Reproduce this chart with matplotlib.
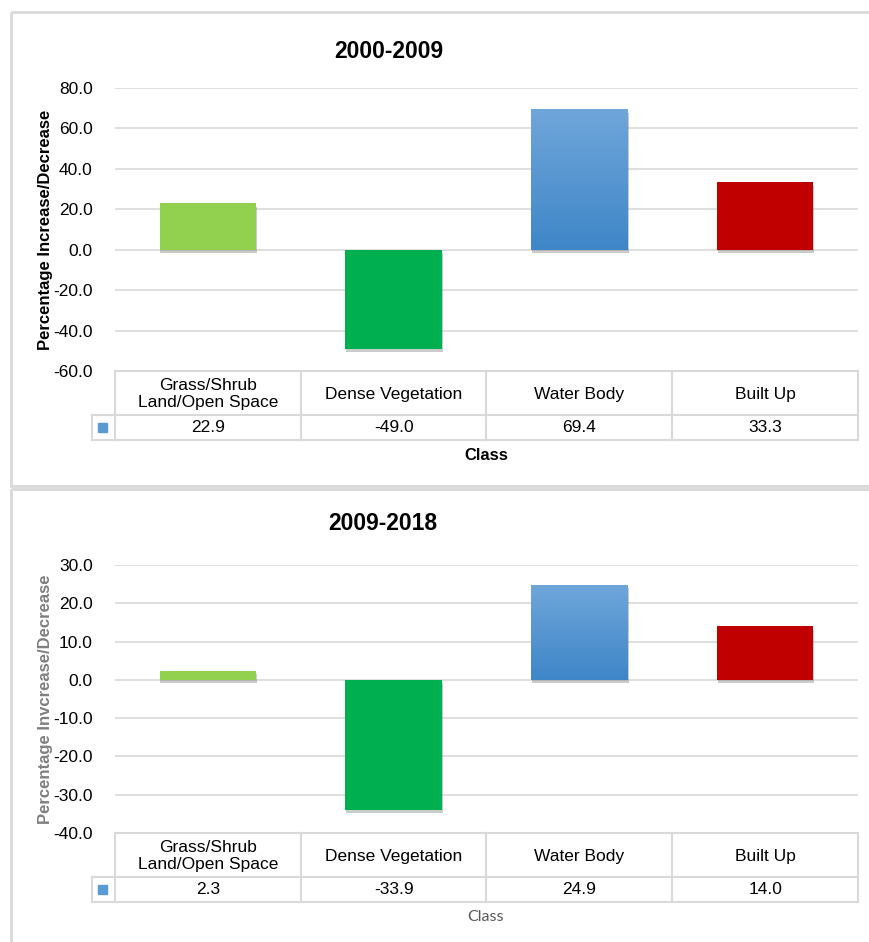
import numpy as np
import matplotlib
matplotlib.use("Agg")
import matplotlib.pyplot as plt
import matplotlib.patheffects as pe
from matplotlib.patches import Rectangle
from matplotlib.colors import LinearSegmentedColormap

plt.rcParams['font.family'] = ['Liberation Sans', 'DejaVu Sans']

# data
classes = ['Grass/Shrub\nLand/Open Space', 'Dense Vegetation', 'Water Body', 'Built Up']
change_2000_2009 = [22.9, -49.0, 69.4, 33.3]
change_2009_2018 = [2.3, -33.9, 24.9, 14.0]
bar_colors = ['#92D050', '#00B050', 'gradient', '#C00000']

W, H = 870, 942
fig = plt.figure(figsize=(W / 100, H / 100), dpi=100)

# overlay in pixel coordinates for frames and the data tables
ov = fig.add_axes([0, 0, 1, 1], zorder=0)
ov.set_xlim(0, W)
ov.set_ylim(H, 0)
ov.axis('off')

grid_c = '#d9d9d9'
blue_cmap = LinearSegmentedColormap.from_list('b', ['#3F86C8', '#6FA6DA'])

# panel frames
ov.add_patch(Rectangle((11, 12), 870, 474, fill=False, ec='#d9d9d9', lw=2))
ov.add_patch(Rectangle((11, 489), 870, 470, fill=False, ec='#d9d9d9', lw=2))

ax_l, ax_r = 115, 858
key_l = 92
fs = 12.5


def draw_panel(top, bottom, values, ylim, step, title, title_xy, ylabel, ylab_color,
               xlab_y, xlab_kw):
    ax = fig.add_axes([ax_l / W, 1 - bottom / H, (ax_r - ax_l) / W, (bottom - top) / H],
                      zorder=2)
    ax.patch.set_alpha(0)
    x = np.arange(len(values))
    shadow = [pe.SimplePatchShadow(offset=(0.6, -2.4), shadow_rgbFace='#555555', alpha=0.3),
              pe.Normal()]
    for xi, v, c in zip(x, values, bar_colors):
        if c == 'gradient':
            b = ax.bar(xi, v, width=0.52, color='#5B9BD5', zorder=3)[0]
            b.set_path_effects(shadow)
            im = ax.imshow(np.linspace(0, 1, 100).reshape(-1, 1), cmap=blue_cmap,
                           origin='lower', aspect='auto',
                           extent=[xi - 0.26, xi + 0.26, 0, v], zorder=4)
            im.set_clip_path(b)
        else:
            b = ax.bar(xi, v, width=0.52, color=c, zorder=3)[0]
            b.set_path_effects(shadow)
    ax.set_xlim(-0.5, len(values) - 0.5)
    ax.set_ylim(*ylim)
    ax.set_yticks(np.arange(ylim[0], ylim[1] + step / 2, step))
    ax.yaxis.set_major_formatter(matplotlib.ticker.FormatStrFormatter('%.1f'))
    ax.tick_params(axis='y', length=0, pad=16, labelsize=fs)
    ax.set_xticks([])
    ax.grid(axis='y', color=grid_c, lw=1.2, zorder=0)
    for s in ax.spines.values():
        s.set_visible(False)
    ax.set_ylabel(ylabel, fontsize=12, fontweight='bold', color=ylab_color)
    ax.yaxis.set_label_coords(-(ax_l - 53) / (ax_r - ax_l), 0.5)

    fig.text(title_xy[0] / W, 1 - title_xy[1] / H, title, fontsize=16.5,
             fontweight='bold', ha='center', va='center')

    # data table under the axis
    row1 = bottom + 44
    row2 = bottom + 69
    ncol = len(values)
    cw = (ax_r - ax_l) / ncol
    lk = dict(color=grid_c, lw=1.5, zorder=1)
    ov.plot([ax_l, ax_r], [bottom, bottom], **lk)
    ov.plot([key_l, ax_r], [row1, row1], **lk)
    ov.plot([key_l, ax_r], [row2, row2], **lk)
    ov.plot([key_l, key_l], [row1, row2], **lk)
    for i in range(ncol + 1):
        ov.plot([ax_l + i * cw] * 2, [bottom, row2], **lk)
    for i, (name, v) in enumerate(zip(classes, values)):
        cx = ax_l + (i + 0.5) * cw
        ov.text(cx, (bottom + row1) / 2 + 1, name, ha='center', va='center', fontsize=fs,
                linespacing=1.1)
        ov.text(cx, (row1 + row2) / 2, f'{v:.1f}', ha='center', va='center', fontsize=fs)
    ov.add_patch(Rectangle((98, (row1 + row2) / 2 - 4.5), 9, 9, color='#5B9BD5', zorder=2))

    ov.text(486, xlab_y, 'Class', ha='center', va='center', **xlab_kw)
    return ax


draw_panel(88, 371, change_2000_2009, (-60, 80), 20, '2000-2009', (389, 52),
           'Percentage Increase/Decrease', 'black', 455,
           dict(fontsize=12, fontweight='bold'))
draw_panel(565, 833, change_2009_2018, (-40, 30), 10, '2009-2018', (383, 524),
           'Percentage Invcrease/Decrease', '#7f7f7f', 917,
           dict(fontsize=11.5, color='#595959', family=['Lato', 'DejaVu Sans']))

fig.savefig('out.png', dpi=100)
